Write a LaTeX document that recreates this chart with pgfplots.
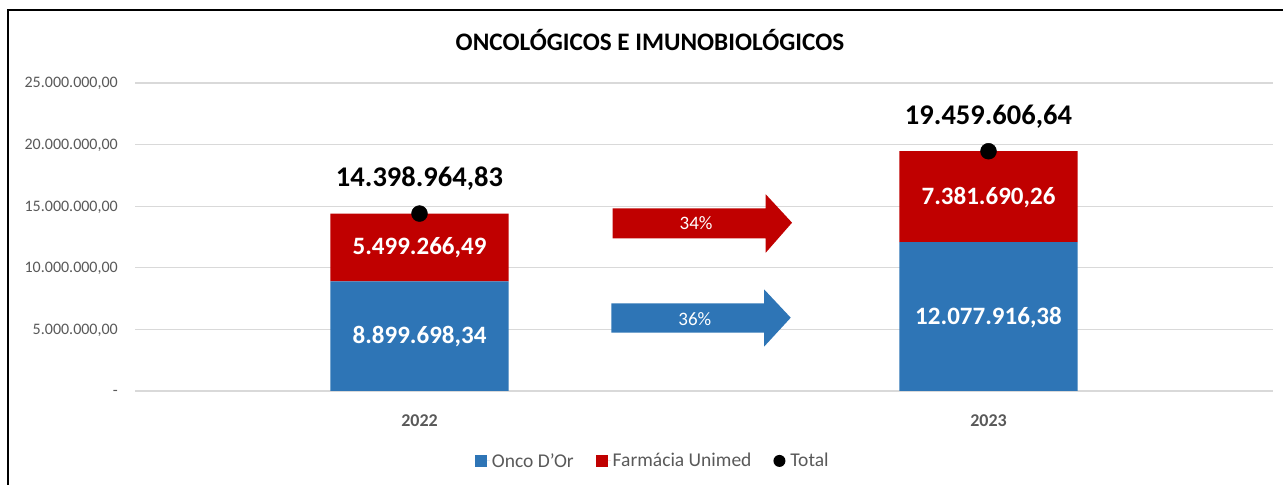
\documentclass[border=0pt]{standalone}
\usepackage{fontspec}
\setmainfont{Carlito}
\usepackage{pgfplots}
\usepackage{pgfplotstable}
\pgfplotsset{compat=1.18}
\definecolor{cblue}{HTML}{2E75B6}
\definecolor{cred}{HTML}{C00000}
\definecolor{cgray}{HTML}{595959}
\definecolor{cgrid}{HTML}{D9D9D9}

\pgfplotstableread{
x onco farmacia
0 8899698.34 5499266.49
1 12077916.38 7381690.26
}\bars
\pgfplotstableread{
x total label
0 14398964.83 14.398.964,83
1 19459606.64 19.459.606,64
}\totals

\begin{document}
\begin{tikzpicture}[x=1bp,y=1bp]
\useasboundingbox (0,0) rectangle (1283,485);
\fill[white] (0,0) rectangle (1283,485);
\draw[line width=2bp] (8,0) -- (8,475) -- (1283,475);
\node[anchor=base,inner sep=0pt,font=\fontsize{25.2bp}{29bp}\selectfont\bfseries] at (650,434) {ONCOLÓGICOS E IMUNOBIOLÓGICOS};

\begin{axis}[
  at={(135bp,94bp)}, anchor=south west, scale only axis,
  width=1138bp, height=308bp,
  xmin=-0.5, xmax=1.5, ymin=0, ymax=25000000,
  ybar stacked, bar width=178bp,
  axis line style={draw=none}, major tick length=0pt,
  ymajorgrids, grid style={cgrid, line width=1.3bp},
  ytick={0,5000000,10000000,15000000,20000000,25000000},
  yticklabels={{-\hspace{9bp}},{5.000.000,00},{10.000.000,00},{15.000.000,00},{20.000.000,00},{25.000.000,00}},
  yticklabel style={anchor=base east, inner sep=0pt, xshift=-17bp, yshift=-5bp, text=cgray, font=\fontsize{16bp}{19bp}\selectfont},
  xtick={0,1}, xticklabels={2022,2023},
  xticklabel style={anchor=base, inner sep=0pt, yshift=-36bp, text=cgray, font=\fontsize{18bp}{21bp}\selectfont\bfseries},
  scaled y ticks=false,
  legend style={at={(0.455,-0.227)}, anchor=center, draw=none, fill=none,
    font=\fontsize{19.5bp}{22bp}\selectfont, text=cgray,
    /tikz/every even column/.append style={column sep=20bp}},
  legend columns=3, legend cell align=left,
]
\addplot[fill=cblue, draw=none, legend image code/.code={\fill[cblue] (0bp,-6bp) rectangle (12bp,6bp); \path[draw=none] (0bp,0bp) -- (15bp,0bp);}] table[x=x,y=onco] {\bars};
\addlegendentry{Onco D'Or}
\addplot[fill=cred, draw=none, legend image code/.code={\fill[cred] (0bp,-6bp) rectangle (12bp,6bp); \path[draw=none] (0bp,0bp) -- (15bp,0bp);}] table[x=x,y=farmacia] {\bars};
\addlegendentry{Farmácia Unimed}
\addlegendimage{draw=none, legend image code/.code={\fill[black] (6bp,0bp) circle (6bp); \path[draw=none] (0bp,0bp) -- (15bp,0bp);}}
\addlegendentry{Total}
\end{axis}

\begin{axis}[
  at={(135bp,94bp)}, anchor=south west, scale only axis,
  width=1138bp, height=308bp,
  xmin=-0.5, xmax=1.5, ymin=0, ymax=25000000,
  hide axis, clip=false,
]
% growth arrows
\fill[cred] (axis cs:0.3392,12394500) -- (axis cs:0.6085,12394500) -- (axis cs:0.6085,11225700) -- (axis cs:0.6547,13660700) -- (axis cs:0.6085,15966000) -- (axis cs:0.6085,14829600) -- (axis cs:0.3392,14829600) -- cycle;
\fill[cblue] (axis cs:0.3374,4732200) -- (axis cs:0.6055,4732200) -- (axis cs:0.6055,3595800) -- (axis cs:0.6524,5949700) -- (axis cs:0.6055,8254900) -- (axis cs:0.6055,7118500) -- (axis cs:0.3374,7118500) -- cycle;

\addplot[only marks, mark=*, mark size=8bp, black,
  point meta=explicit symbolic, nodes near coords,
  every node near coord/.append style={anchor=base, yshift=27bp, text=black, font=\fontsize{28.5bp}{32bp}\selectfont\bfseries}]
  table[x=x, y=total, meta=label] {\totals};

% value labels inside bars
\node[anchor=base, yshift=-7.5bp, text=white, font=\fontsize{25bp}{29bp}\selectfont\bfseries] at (axis cs:0,4449849.17) {8.899.698,34};
\node[anchor=base, yshift=-7.5bp, text=white, font=\fontsize{25bp}{29bp}\selectfont\bfseries] at (axis cs:0,11649331.6) {5.499.266,49};
\node[anchor=base, yshift=-7.5bp, text=white, font=\fontsize{25bp}{29bp}\selectfont\bfseries] at (axis cs:1,6038958.19) {12.077.916,38};
\node[anchor=base, yshift=-7.5bp, text=white, font=\fontsize{25bp}{29bp}\selectfont\bfseries] at (axis cs:1,15768761.5) {7.381.690,26};
\node[anchor=base, yshift=-6bp, text=white, font=\fontsize{19bp}{22bp}\selectfont] at (axis cs:0.486,13555000) {34\%};
\node[anchor=base, yshift=-6bp, text=white, font=\fontsize{19bp}{22bp}\selectfont] at (axis cs:0.484,5787000) {36\%};
\end{axis}
\end{tikzpicture}
\end{document}
